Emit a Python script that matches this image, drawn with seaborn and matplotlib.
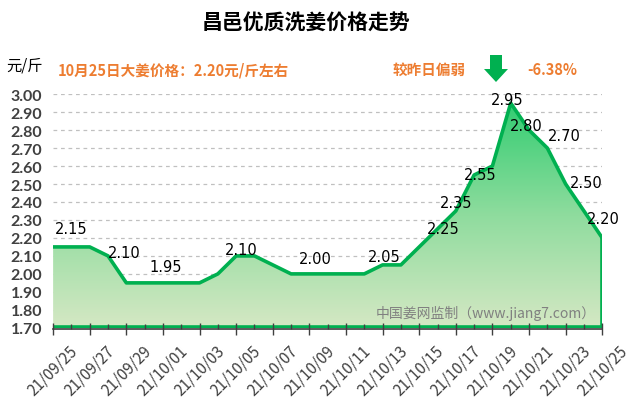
import numpy as np
import pandas as pd
import matplotlib
matplotlib.use("Agg")
import matplotlib.pyplot as plt
import matplotlib.dates as mdates
from matplotlib.colors import LinearSegmentedColormap
import seaborn as sns

# price data, 2021-09-25 .. 2021-10-25
dates = pd.date_range("2021-09-25", "2021-10-25", freq="D")
prices = [2.15, 2.15, 2.15, 2.10, 1.95, 1.95, 1.95, 1.95, 1.95, 2.00,
          2.10, 2.10, 2.05, 2.00, 2.00, 2.00, 2.00, 2.00, 2.05, 2.05,
          2.15, 2.25, 2.35, 2.55, 2.60, 2.95, 2.80, 2.70, 2.50, 2.35,
          2.20]
# which points carry a value label
label_idx = [1, 3, 6, 10, 14, 18, 21, 22, 23, 25, 26, 27, 28, 30]
y_ticks = [1.70, 1.80, 1.90, 2.00, 2.10, 2.20, 2.30, 2.40, 2.50, 2.60,
           2.70, 2.80, 2.90, 3.00]

title = "昌邑优质洗姜价格走势"
unit = "元/斤"
note_left = "10月25日大姜价格：2.20元/斤左右"
note_right = "较昨日偏弱"
change = "-6.38%"
source = "中国姜网监制（www.jiang7.com）"

GREEN = "#00b050"
ORANGE = "#ED7D31"
TICK = "#404040"

sns.set_theme(style="white")
plt.rcParams["font.family"] = ["Noto Sans CJK SC", "DejaVu Sans"]
plt.rcParams.update({
    "xtick.bottom": True,
    "xtick.major.bottom": True,
    "xtick.minor.bottom": True,
    "xtick.direction": "inout",
    "xtick.major.size": 8,
    "xtick.minor.size": 3.5,
    "xtick.major.width": 1,
    "xtick.minor.width": 1,
    "xtick.color": TICK,
})

df = pd.DataFrame({"date": dates, "price": prices})

fig = plt.figure(figsize=(6.4, 4.1), dpi=100)
ax = fig.add_axes([0.083, 0.198, 0.858, 0.570])

ymin, ymax = 1.70, 3.00
xnum = mdates.date2num(df["date"])

# dashed gridlines, kept under the area
for v in y_ticks[1:]:
    ax.axhline(v, color="#c0c0c0", linestyle=(0, (3, 3)), linewidth=0.9,
               zorder=0.5)

# gradient area under the line
fill = ax.fill_between(df["date"], df["price"], ymin, color="none", lw=0)
cmap = LinearSegmentedColormap.from_list("g", ["#d5e8c4", "#8fdc9e", "#33cd72"])
grad = np.linspace(0, 1, 256).reshape(-1, 1)
img = ax.imshow(grad, cmap=cmap, origin="lower", aspect="auto",
                extent=[xnum[0], xnum[-1], ymin, max(prices)], zorder=1)
img.set_clip_path(fill.get_paths()[0], transform=ax.transData)

sns.lineplot(data=df, x="date", y="price", ax=ax, color=GREEN,
             linewidth=2.6, zorder=2)
# outline on bottom and right edge of the area
ax.plot([df["date"].iloc[-1]] * 2, [prices[-1], ymin], color=GREEN, lw=2.6,
        zorder=2, solid_capstyle="butt")
ax.plot([df["date"].iloc[0], df["date"].iloc[-1]], [ymin + 0.004] * 2,
        color=GREEN, lw=2.6, zorder=2)

# value labels
offsets = {1: (0, 18), 3: (16, 3), 6: (3, 16), 10: (5, 6), 14: (6, 15),
           18: (2, 8), 21: (6, 0), 22: (0, 8), 23: (6, 1), 25: (-4, 4),
           26: (-3, 5), 27: (17, 13), 28: (21, 2), 30: (1, 19)}
for i in label_idx:
    ax.annotate(f"{prices[i]:.2f}", (df["date"].iloc[i], prices[i]),
                xytext=offsets[i], textcoords="offset pixels",
                ha="center", va="center", fontsize=10.5, color="black",
                family="DejaVu Sans", zorder=5)

ax.set_xlim(df["date"].iloc[0], df["date"].iloc[-1])
ax.set_ylim(ymin, ymax)
ax.set_xlabel("")
ax.set_ylabel("")

ax.tick_params(axis="y", length=0, pad=8)
ax.tick_params(axis="x", which="major", bottom=True, direction="inout",
               length=8, width=1, color=TICK, pad=5, labelrotation=45)
ax.tick_params(axis="x", which="minor", bottom=True, direction="in",
               length=3.5, width=1, color=TICK)

ax.set_yticks(y_ticks)
ax.set_yticklabels([f"{v:.2f}" for v in y_ticks], fontfamily="Lato",
                   fontweight="bold", fontsize=11.5, color=TICK)
major = df["date"].iloc[::2]
ax.set_xticks(list(major))
ax.set_xticklabels([d.strftime("%y/%m/%d") for d in major], fontfamily="Lato",
                   fontweight="bold", fontsize=9.5, color=TICK)
ax.set_xticks(list(df["date"]), minor=True)
plt.setp(ax.get_xticklabels(), rotation=45, ha="right",
         rotation_mode="anchor")

ax.grid(False)
ax.set_axisbelow(False)
for s in ["top", "right", "left"]:
    ax.spines[s].set_visible(False)
ax.spines["bottom"].set_color(TICK)
ax.spines["bottom"].set_linewidth(1.2)
ax.spines["bottom"].set_position(("outward", 1))
ax.set_facecolor("white")

# header texts
fig.text(0.478, 1 - 22 / 410, title, ha="center", va="center",
         fontsize=15, fontweight="bold", color="black")
fig.text(6 / 640, 1 - 66 / 410, unit, ha="left", va="center",
         fontsize=11, color="black")
fig.text(58 / 640, 1 - 70 / 410, note_left, ha="left", va="center",
         fontsize=10.5, fontweight="bold", color=ORANGE)
fig.text(393 / 640, 1 - 70 / 410, note_right, ha="left", va="center",
         fontsize=10.5, fontweight="bold", color=ORANGE)
fig.text(527 / 640, 1 - 70 / 410, change, ha="left", va="center",
         fontsize=10.5, fontweight="bold", color=ORANGE)

# green down arrow
arrow_x = [490, 502, 502, 508, 496, 484, 490]
arrow_y = [56, 56, 70, 70, 83, 70, 70]
fig.patches.append(plt.Polygon(
    [(x / 640, 1 - y / 410) for x, y in zip(arrow_x, arrow_y)],
    closed=True, transform=fig.transFigure, color=GREEN, lw=0))

fig.text(486 / 640, 1 - 313 / 410, source, ha="center", va="center",
         fontsize=10, color="#808080")

fig.savefig("out.png", dpi=100)
plt.close(fig)
